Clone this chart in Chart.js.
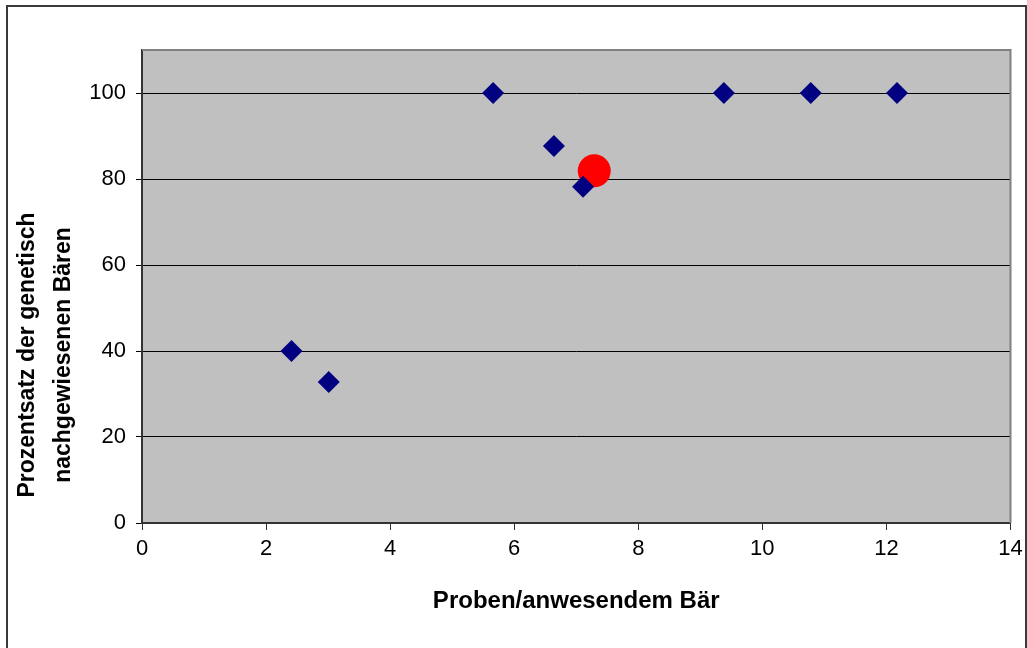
<!DOCTYPE html>
<html>
<head>
<meta charset="utf-8">
<script src="https://cdn.jsdelivr.net/npm/chart.js@4.4.0/dist/chart.umd.min.js"></script>
<style>
  html, body { margin: 0; padding: 0; background: #fff; }
  #wrap { position: relative; width: 1027px; height: 648px; overflow: hidden; }
  #frame { position: absolute; left: 6px; top: 5px; width: 1017px; height: 700px;
           border: 2px solid #3a3a3a; pointer-events: none; }
</style>
</head>
<body>
<div id="wrap">
  <canvas id="bearChart" width="1027" height="648"></canvas>
  <div id="frame"></div>
</div>
<script>
// Proben pro anwesendem Baer vs. Anteil genetisch nachgewiesener Baeren
var samplesX = [2.41, 3.01, 5.66, 6.64, 7.11, 9.38, 10.78, 12.17];
var percentY = [40, 32.8, 100, 87.7, 78.2, 100, 100, 100];
var highlightX = [7.29];
var highlightY = [81.9];
var xTitle = 'Proben/anwesendem Bär';
var yTitle = ['Prozentsatz der genetisch', 'nachgewiesenen Bären'];

function toPoints(xs, ys) {
  return xs.map(function (x, i) { return { x: x, y: ys[i] }; });
}

Chart.defaults.font.family = '"Liberation Sans", Arial, sans-serif';
Chart.defaults.color = '#000';

// grey plot background + grey top/right border, axis titles
var plotDeco = {
  id: 'plotDeco',
  beforeDraw: function (chart) {
    var a = chart.chartArea, c = chart.ctx;
    c.save();
    c.fillStyle = '#c0c0c0';
    c.fillRect(a.left, a.top, a.right - a.left, a.bottom - a.top);
    c.restore();
  },
  beforeDatasetsDraw: function (chart) {
    var a = chart.chartArea, c = chart.ctx;
    c.save();
    c.strokeStyle = '#808080';
    c.lineWidth = 2;
    c.beginPath();
    c.moveTo(a.left, a.top);
    c.lineTo(a.right, a.top);
    c.lineTo(a.right, a.bottom);
    c.stroke();
    c.restore();
  },
  afterDraw: function (chart) {
    var a = chart.chartArea, c = chart.ctx;
    c.save();
    c.fillStyle = '#000';
    c.textAlign = 'center';
    c.textBaseline = 'middle';
    c.font = 'bold 24px "Liberation Sans", Arial, sans-serif';
    c.fillText(xTitle, (a.left + a.right) / 2, 601);
    c.font = 'bold 23px "Liberation Sans", Arial, sans-serif';
    c.translate(28, 355);
    c.rotate(-Math.PI / 2);
    c.fillText(yTitle[0], 0, 0);
    c.fillText(yTitle[1], 0, 36);
    c.restore();
  }
};

var ctx = document.getElementById('bearChart').getContext('2d');
var bearChart = new Chart(ctx, {
  type: 'scatter',
  data: {
    datasets: [
      {
        label: 'Gebiete',
        data: toPoints(samplesX, percentY),
        pointStyle: 'rectRot',
        pointRadius: 11,
        pointHoverRadius: 11,
        borderWidth: 0,
        backgroundColor: '#000080',
        borderColor: '#000080'
      },
      {
        label: 'Mittel',
        data: toPoints(highlightX, highlightY),
        pointStyle: 'circle',
        pointRadius: 16.5,
        pointHoverRadius: 16.5,
        borderWidth: 0,
        backgroundColor: '#ff0000',
        borderColor: '#ff0000'
      }
    ]
  },
  options: {
    responsive: false,
    animation: false,
    layout: { padding: { top: 50, right: 15, left: 0, bottom: 0 } },
    plugins: { legend: { display: false }, tooltip: { enabled: false } },
    scales: {
      x: {
        type: 'linear',
        min: 0,
        max: 14,
        ticks: { stepSize: 2, font: { size: 22 }, padding: 6, maxRotation: 0 },
        grid: { drawOnChartArea: false, drawTicks: true, tickLength: 7, color: '#333', lineWidth: 1 },
        border: { display: true, color: '#333', width: 2 },
        afterFit: function (s) { s.height = 125; s.paddingLeft = 0; s.paddingRight = 0; }
      },
      y: {
        min: 0,
        max: 110,
        ticks: { stepSize: 20, font: { size: 22 }, padding: 10 },
        grid: { color: '#000', lineWidth: 1, tickLength: 6 },
        border: { display: true, color: '#333', width: 2 },
        afterBuildTicks: function (s) { s.ticks = s.ticks.filter(function (t) { return t.value <= 100; }); },
        afterFit: function (s) { s.width = 142; s.paddingTop = 0; s.paddingBottom = 0; }
      }
    }
  },
  plugins: [plotDeco]
});
</script>
</body>
</html>
